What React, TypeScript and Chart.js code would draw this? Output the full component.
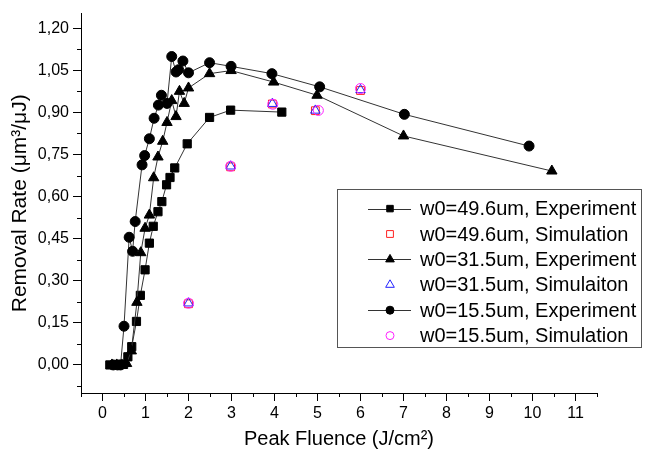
import { useEffect, useRef } from "react";
import { Chart, registerables } from "chart.js";

Chart.register(...registerables);

const FONT = "'Liberation Sans', Arial, Helvetica, sans-serif";

// ---- data ----
const sqExpX = [0.17, 0.28, 0.38, 0.49, 0.59, 0.68, 0.79, 0.88, 0.99, 1.09, 1.18, 1.29, 1.38, 1.49, 1.57, 1.68, 1.97, 2.49, 2.98, 4.17];
const sqExpY = [0, 0, 0, 0.002, 0.029, 0.065, 0.155, 0.248, 0.339, 0.434, 0.494, 0.546, 0.582, 0.642, 0.668, 0.702, 0.788, 0.882, 0.908, 0.901];

const triExpX = [0.22, 0.33, 0.45, 0.56, 0.67, 0.8, 0.89, 0.99, 1.09, 1.19, 1.29, 1.4, 1.5, 1.61, 1.71, 1.79, 1.9, 2.0, 2.49, 2.99, 3.98, 4.99, 7.0, 10.45];
const triExpY = [0, 0, 0, 0.005, 0.05, 0.223, 0.4, 0.487, 0.534, 0.667, 0.741, 0.797, 0.864, 0.942, 0.885, 0.975, 0.932, 0.987, 1.038, 1.049, 1.008, 0.961, 0.816, 0.691];

const circExpX = [0.25, 0.35, 0.42, 0.5, 0.62, 0.7, 0.76, 0.92, 0.98, 1.09, 1.2, 1.3, 1.37, 1.5, 1.61, 1.71, 1.77, 1.87, 2.0, 2.49, 2.99, 3.94, 5.05, 7.02, 9.92];
const circExpY = [0, 0, 0, 0.138, 0.455, 0.405, 0.511, 0.713, 0.746, 0.806, 0.879, 0.926, 0.961, 0.932, 1.099, 1.044, 1.052, 1.083, 1.041, 1.077, 1.064, 1.038, 0.991, 0.893, 0.78];

const sqSimX = [2.0, 2.98, 3.95, 4.95, 6.0];
const sqSimY = [0.218, 0.706, 0.93, 0.906, 0.978];
const triSimX = [2.0, 2.98, 3.95, 4.95, 6.0];
const triSimY = [0.22, 0.708, 0.931, 0.907, 0.98];
const circSimX = [2.0, 2.98, 3.96, 5.02, 6.0];
const circSimY = [0.22, 0.708, 0.929, 0.907, 0.985];

const xTickValues = [0, 1, 2, 3, 4, 5, 6, 7, 8, 9, 10, 11];
const yTickValues = [0, 0.15, 0.3, 0.45, 0.6, 0.75, 0.9, 1.05, 1.2];

const labels = [
  "w0=49.6um, Experiment",
  "w0=49.6um, Simulation",
  "w0=31.5um, Experiment",
  "w0=31.5um, Simulaiton",
  "w0=15.5um, Experiment",
  "w0=15.5um, Simulation",
];

const pts = (xs: number[], ys: number[]) => xs.map((x, i) => ({ x, y: ys[i] }));

function drawMarker(ctx: CanvasRenderingContext2D, style: string, x: number, y: number, r: number, fill: string | null, stroke: string) {
  ctx.beginPath();
  if (style === "circle") {
    ctx.arc(x, y, r, 0, Math.PI * 2);
  } else if (style === "rect") {
    const s = Math.SQRT1_2 * r;
    ctx.rect(x - s, y - s, 2 * s, 2 * s);
  } else {
    const a = Math.PI / 2;
    for (let k = 0; k < 3; k++) {
      const ang = -a + (k * 2 * Math.PI) / 3;
      const px = x + Math.cos(ang) * r;
      const py = y + Math.sin(ang) * r;
      if (k === 0) ctx.moveTo(px, py);
      else ctx.lineTo(px, py);
    }
    ctx.closePath();
  }
  if (fill) {
    ctx.fillStyle = fill;
    ctx.fill();
  }
  ctx.strokeStyle = stroke;
  ctx.lineWidth = 1;
  ctx.stroke();
}

const minorTicks = {
  id: "minorTicks",
  afterDraw(chart: any) {
    const { ctx, chartArea, scales } = chart;
    ctx.save();
    ctx.strokeStyle = "#000";
    ctx.lineWidth = 1;
    const xs = scales.x;
    for (let v = -0.5; v <= 11.5 + 1e-9; v += 1) {
      const px = Math.round(xs.getPixelForValue(v)) + 0.5;
      ctx.beginPath();
      ctx.moveTo(px, chartArea.bottom);
      ctx.lineTo(px, chartArea.bottom + 4);
      ctx.stroke();
    }
    const ys = scales.y;
    for (let v = -0.075; v <= 1.2; v += 0.15) {
      const py = Math.round(ys.getPixelForValue(v)) + 0.5;
      ctx.beginPath();
      ctx.moveTo(chartArea.left, py);
      ctx.lineTo(chartArea.left - 4, py);
      ctx.stroke();
    }
    ctx.restore();
  },
};

const customLegend = {
  id: "customLegend",
  afterDraw(chart: any) {
    const { ctx, chartArea } = chart;
    const left = chartArea.left + 256;
    const top = chartArea.top + 175;
    const right = chartArea.right + 44;
    const bottom = top + 158;
    ctx.save();
    ctx.strokeStyle = "#555";
    ctx.lineWidth = 1;
    ctx.strokeRect(Math.round(left) + 0.5, Math.round(top) + 0.5, right - left, bottom - top);
    const dsList = chart.data.datasets;
    const rowH = 25.4;
    dsList.forEach((ds: any, i: number) => {
      const cy = top + 20 + i * rowH;
      const mx = left + 53;
      if (ds.showLine) {
        ctx.strokeStyle = "#333";
        ctx.lineWidth = 1;
        ctx.beginPath();
        ctx.moveTo(left + 31, Math.round(cy) + 0.5);
        ctx.lineTo(left + 74, Math.round(cy) + 0.5);
        ctx.stroke();
      }
      const filled = ds.pointBackgroundColor !== "transparent";
      drawMarker(ctx, ds.pointStyle, mx, cy, ds.legendRadius, filled ? ds.pointBackgroundColor : null, ds.pointBorderColor);
      ctx.fillStyle = "#000";
      ctx.font = `20px ${FONT}`;
      ctx.textBaseline = "middle";
      ctx.textAlign = "left";
      ctx.fillText(ds.label, left + 83, cy + 1);
    });
    ctx.restore();
  },
};

export default function App() {
  const ref = useRef<HTMLCanvasElement>(null);
  useEffect(() => {
    document.body.style.margin = "0";
    Chart.defaults.font.family = FONT;
    Chart.defaults.color = "#000";
    const expBase = {
      showLine: true,
      borderColor: "#333",
      borderWidth: 1,
      pointBackgroundColor: "#000",
      pointBorderColor: "#000",
      pointBorderWidth: 1,
    };
    const simBase = {
      showLine: false,
      pointBackgroundColor: "transparent",
      pointBorderWidth: 1,
    };
    const chart = new Chart(ref.current as HTMLCanvasElement, {
      type: "scatter",
      data: {
        datasets: [
          { ...expBase, label: labels[0], data: pts(sqExpX, sqExpY), pointStyle: "rect", pointRadius: 5.8, legendRadius: 4.6, order: 5 } as any,
          { ...simBase, label: labels[1], data: pts(sqSimX, sqSimY), pointStyle: "rect", pointRadius: 5.5, pointBorderColor: "#ff2020", borderColor: "#ff2020", legendRadius: 4.8, order: 2 } as any,
          { ...expBase, label: labels[2], data: pts(triExpX, triExpY), pointStyle: "triangle", pointRadius: 6, legendRadius: 5, order: 4 } as any,
          { ...simBase, label: labels[3], data: pts(triSimX, triSimY), pointStyle: "triangle", pointRadius: 5.5, pointBorderColor: "#2020ff", borderColor: "#2020ff", legendRadius: 5, order: 1 } as any,
          { ...expBase, label: labels[4], data: pts(circExpX, circExpY), pointStyle: "circle", pointRadius: 5, legendRadius: 4, order: 3 } as any,
          { ...simBase, label: labels[5], data: pts(circSimX, circSimY), pointStyle: "circle", pointRadius: 5, pointBorderColor: "#ff20ff", borderColor: "#ff20ff", legendRadius: 4, order: 0 } as any,
        ],
      },
      options: {
        responsive: false,
        animation: false,
        events: [],
        layout: { padding: { left: 0, right: 50, top: 9, bottom: 0 } },
        plugins: { legend: { display: false }, tooltip: { enabled: false } },
        scales: {
          x: {
            type: "linear",
            min: -0.5,
            max: 11.5,
            afterBuildTicks: (s: any) => {
              s.ticks = xTickValues.map((v) => ({ value: v }));
            },
            afterFit: (s: any) => {
              s.height = 65;
            },
            border: { display: true, color: "#000", width: 1 },
            grid: { drawOnChartArea: false, drawTicks: true, tickLength: 8, tickColor: "#000", tickWidth: 1 },
            ticks: { font: { size: 16 }, color: "#000", padding: 3, maxRotation: 0, autoSkip: false, callback: (v: any) => String(v) },
            title: { display: true, text: "Peak Fluence (J/cm²)", font: { size: 20 }, color: "#000", padding: { top: 0, bottom: 7 } },
          },
          y: {
            type: "linear",
            min: -0.1,
            max: 1.252,
            afterBuildTicks: (s: any) => {
              s.ticks = yTickValues.map((v) => ({ value: v }));
            },
            afterFit: (s: any) => {
              s.width = 81;
            },
            border: { display: true, color: "#000", width: 1 },
            grid: { drawOnChartArea: false, drawTicks: true, tickLength: 8, tickColor: "#000", tickWidth: 1 },
            ticks: {
              font: { size: 16 },
              color: "#000",
              padding: 4,
              autoSkip: false,
              callback: (v: any) => Number(v).toFixed(2).replace(".", ","),
            },
            title: { display: true, text: "Removal Rate (μm³/μJ)", font: { size: 21 }, color: "#000", padding: { top: 8, bottom: 0 } },
          },
        },
      },
      plugins: [minorTicks, customLegend],
    });
    return () => chart.destroy();
  }, []);
  return (
    <div style={{ position: "absolute", left: 0, top: 0, width: 647, height: 458 }}>
      <canvas ref={ref} width={647} height={458} />
    </div>
  );
}
